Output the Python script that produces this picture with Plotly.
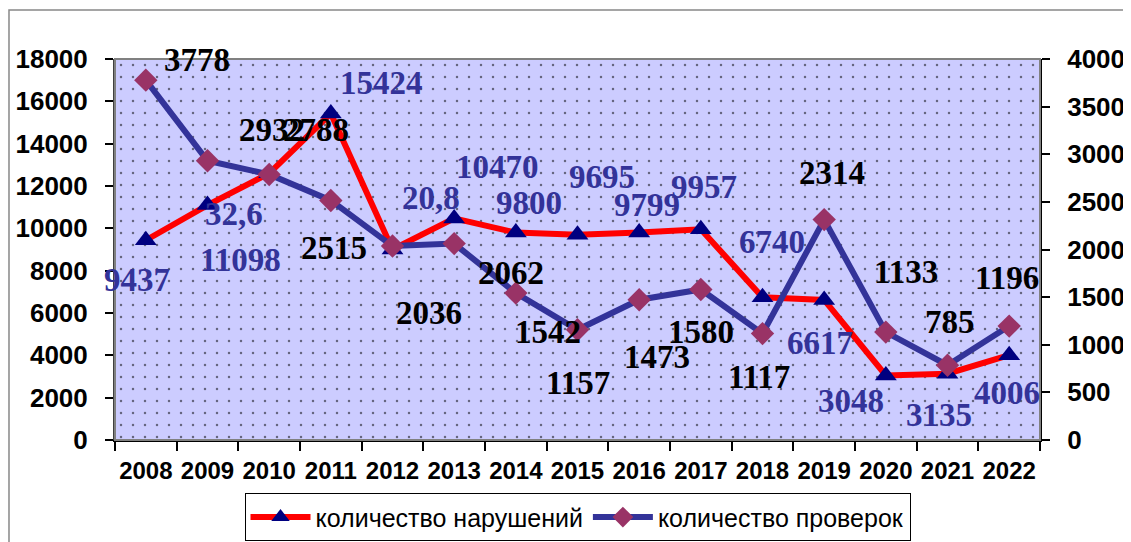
import plotly.graph_objects as go

# data
years = [2008, 2009, 2010, 2011, 2012, 2013, 2014, 2015, 2016, 2017, 2018, 2019, 2020, 2021, 2022]
violations = [9437, 11098, 12600, 15424, 9000, 10470, 9800, 9695, 9799, 9957, 6740, 6617, 3048, 3135, 4006]
violation_labels = ["9437", "11098", "32,6", "15424", "20,8", "10470", "9800", "9695", "9799", "9957",
                    "6740", "6617", "3048", "3135", "4006"]
inspections = [3778, 2932, 2788, 2515, 2036, 2062, 1542, 1157, 1473, 1580, 1117, 2314, 1133, 785, 1196]

LEFT_MAX = 18000
RIGHT_MAX = 4000

# label offsets in px (x right, y down) - placed by hand like in the original
red_off = [(-9, 40), (33, 55), (-35, 41), (51, -31), (38, -52), (43, -51), (13, -30), (24, -58),
           (8, -28), (3, -42), (9, -55), (-4, 43), (-35, 26), (-9, 41), (-2, 38)]
blue_off = [(51, -20), (64, -31), (47, -44), (3, 48), (36, 67), (57, 29), (32, 39), (0, 53),
            (18, 57), (0, 42), (-4, 43), (8, -47), (20, -60), (2, -43), (-2, -48)]

fig = go.Figure()

# dotted lavender background of the plot area
x0, x1 = years[0] - 0.5, years[-1] + 0.5
fig.add_trace(go.Scatter(x=[x0, x1, x1, x0, x0], y=[0, 0, LEFT_MAX, LEFT_MAX, 0],
                         mode='lines', line=dict(width=0), fill='toself',
                         fillcolor='#CCCCFF',
                         fillpattern=dict(shape='.', fgcolor='black', bgcolor='#CCCCFF',
                                          size=12, solidity=0.035),
                         hoverinfo='skip', showlegend=False))

fig.add_trace(go.Scatter(x=years, y=violations, name='количество нарушений',
                         mode='lines+markers',
                         line=dict(color='#FF0000', width=6),
                         marker=dict(symbol='triangle-up', size=19, color='#000080')))

fig.add_trace(go.Scatter(x=years, y=inspections, name='количество проверок',
                         mode='lines+markers', yaxis='y2',
                         line=dict(color='#333399', width=6),
                         marker=dict(symbol='diamond', size=18, color='#993366')))

label_font = dict(family='Liberation Serif', size=33)
for yr, v, txt, (dx, dy) in zip(years, violations, violation_labels, red_off):
    fig.add_annotation(x=yr, y=v, text='<b>%s</b>' % txt, showarrow=False,
                       xshift=dx, yshift=-dy, font=dict(color='#333399', **label_font))
for yr, v, (dx, dy) in zip(years, inspections, blue_off):
    fig.add_annotation(x=yr, y=v, yref='y2', text='<b>%d</b>' % v, showarrow=False,
                       xshift=dx, yshift=-dy, font=dict(color='black', **label_font))

# frame around the whole chart (left and top edges visible)
fig.add_shape(type='rect', xref='paper', yref='paper', x0=-0.1146, x1=1.11, y0=-0.3, y1=1.1286,
              line=dict(color='#888888', width=1.5), layer='below')
# plot area border
fig.add_shape(type='rect', xref='paper', yref='paper', x0=0, x1=1, y0=0, y1=1,
              line=dict(color='#808080', width=2))

tick_font = dict(family='Liberation Sans', size=26, color='black', weight='bold')

# page body has an 8px margin, so the figure is a bit smaller than the window
fig.update_layout(
    width=1123, height=534,
    margin=dict(l=107, r=91, t=51, b=102, autoexpand=False),
    paper_bgcolor='white',
    plot_bgcolor='#CCCCFF',
    xaxis=dict(range=[x0, x1], tickmode='array', tickvals=years, automargin=False,
               ticktext=[str(y) for y in years], ticks='', showgrid=False, zeroline=False,
               showline=True, linecolor='black', linewidth=2,
               tickfont=dict(family='Liberation Sans', size=24, color='black', weight='bold'),
               ticklabelstandoff=8,
               minor=dict(tickmode='array', tickvals=[y - 0.5 for y in years] + [x1],
                          ticks='outside', ticklen=9, tickcolor='black', tickwidth=1.5,
                          showgrid=False)),
    yaxis=dict(range=[0, LEFT_MAX], dtick=2000, tickformat='d', ticks='outside', ticklen=8,
               tickcolor='black', automargin=False,
               tickwidth=1.5, showgrid=False, zeroline=False, showline=True,
               linecolor='#404040', linewidth=2, tickfont=tick_font, ticklabelstandoff=12),
    yaxis2=dict(range=[0, RIGHT_MAX], dtick=500, tickformat='d', overlaying='y', side='right',
                ticks='outside', automargin=False,
                ticklen=8, tickcolor='black', tickwidth=1.5, showgrid=False, zeroline=False,
                showline=True, linecolor='black', linewidth=2, tickfont=tick_font,
                ticklabelstandoff=12),
    legend=dict(orientation='h', x=0.5, xanchor='center', y=-0.14, yanchor='top',
                bordercolor='black', borderwidth=1, bgcolor='white',
                font=dict(family='Liberation Sans', size=25, color='black'),
                itemwidth=60, traceorder='normal'),
)

fig.write_html("out.html")
